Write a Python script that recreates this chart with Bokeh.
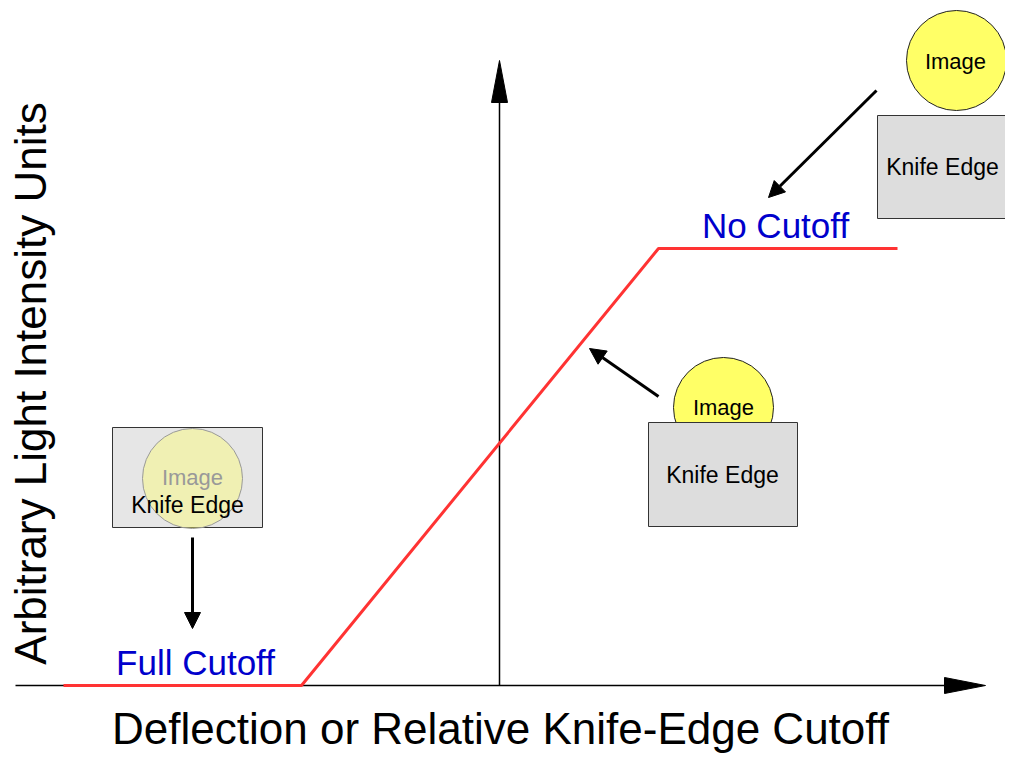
import math
from bokeh.plotting import figure
from bokeh.models import Range1d, Arrow, NormalHead
from bokeh.core.properties import value
from bokeh.embed import file_html
from bokeh.resources import INLINE

# ---- data (diagram coordinates, y grows downward) ----
curve_x = [63, 301, 658, 897]
curve_y = [685, 685, 248, 248]

curve_labels = ["Full Cutoff", "No Cutoff"]
curve_label_x = [195, 775]
curve_label_y = [662, 225]

# knife-edge boxes: left (full cutoff), middle (partial), right (no cutoff)
box_left = [112, 648, 877]
box_right = [262, 797, 1019]
box_top = [427, 422, 115]
box_bottom = [527, 526, 218]
box_fill = ["#e6e6e6", "#dddddd", "#dddddd"]

img_x = [192, 723, 956]
img_y = [478, 407, 60]
img_r = [50, 50, 50]

img_text_x = [192, 723, 955]
img_text_y = [477, 407, 61]
img_text_color = ["#999999", "black", "black"]

knife_text_x = [187, 722, 942]
knife_text_y = [504, 474, 166]

arrow_x0 = [192, 658, 876]
arrow_y0 = [537, 396, 90]
arrow_x1 = [192, 589, 768]
arrow_y1 = [628, 348, 197]

x_title = "Deflection or Relative Knife-Edge Cutoff"
y_title = "Arbitrary Light Intensity Units"

# axes geometry
origin_x, origin_y = 499, 685
x_axis_start, x_axis_end, x_tip = 15, 944, 985
y_axis_end, y_tip = 102, 60
head_half = 8

FONT = value("Liberation Sans")

p = figure(width=1005, height=753, x_range=Range1d(0, 1005), y_range=Range1d(753, 0),
           output_backend="svg", toolbar_location=None,
           x_axis_type=None, y_axis_type=None, min_border=0)
p.grid.visible = False
p.outline_line_color = None
p.background_fill_color = "white"
p.border_fill_color = "white"

# axes
p.line([x_axis_start, x_axis_end], [origin_y, origin_y], line_color="black", line_width=1.5)
p.line([origin_x, origin_x], [origin_y, y_axis_end], line_color="black", line_width=1.5)
p.patch([x_axis_end, x_tip, x_axis_end], [origin_y - head_half, origin_y, origin_y + head_half],
        fill_color="black", line_color="black")
p.patch([origin_x - head_half, origin_x, origin_x + head_half], [y_axis_end, y_tip, y_axis_end],
        fill_color="black", line_color="black")

# response curve
p.line(curve_x, curve_y, line_color="#ff3333", line_width=3)

# middle + right: circle first, then box over it
p.circle(x=img_x[1:], y=img_y[1:], radius=img_r[1:], fill_color="#ffff66",
         line_color="#222222", line_width=1)
p.quad(left=box_left[1:], right=box_right[1:], top=box_top[1:], bottom=box_bottom[1:],
       fill_color=box_fill[1:], line_color="#333333", line_width=1)
# left: box then translucent image over it
p.quad(left=box_left[:1], right=box_right[:1], top=box_top[:1], bottom=box_bottom[:1],
       fill_color=box_fill[:1], line_color="#333333", line_width=1)
p.circle(x=img_x[:1], y=img_y[:1], radius=img_r[:1], fill_color="#ffff66", fill_alpha=0.4,
         line_color="#999999", line_width=1)

p.text(x=img_text_x, y=img_text_y, text=["Image"] * 3, text_color=img_text_color,
       text_font=FONT, text_font_size="22px", text_align="center", text_baseline="middle")
p.text(x=knife_text_x, y=knife_text_y, text=["Knife Edge"] * 3, text_color="black",
       text_font=FONT, text_font_size="23px", text_align="center", text_baseline="middle")

for x0, y0, x1, y1 in zip(arrow_x0, arrow_y0, arrow_x1, arrow_y1):
    p.add_layout(Arrow(end=NormalHead(size=16, fill_color="black", line_color="black"),
                       x_start=x0, y_start=y0, x_end=x1, y_end=y1,
                       line_color="black", line_width=3))

p.text(x=curve_label_x, y=curve_label_y, text=curve_labels, text_color="#0000cc",
       text_font=FONT, text_font_size="35px", text_align="center", text_baseline="middle")

p.text(x=[500], y=[728], text=[x_title], text_color="black", text_font=FONT,
       text_font_size="44px", text_align="center", text_baseline="middle")
p.text(x=[30], y=[383], text=[y_title], text_color="black", text_font=FONT,
       text_font_size="44px", text_align="center", text_baseline="middle",
       angle=math.pi / 2)

open("out.html", "w").write(file_html(p, INLINE))
